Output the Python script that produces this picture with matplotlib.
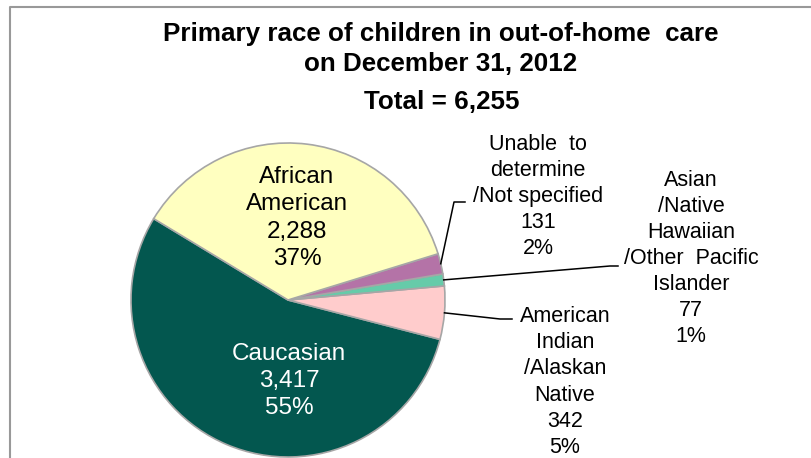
import numpy as np
import matplotlib
matplotlib.use("Agg")
import matplotlib.pyplot as plt

plt.rcParams['font.family'] = ['Liberation Sans', 'DejaVu Sans']

# ---- data ----
categories = ["Caucasian", "American\nIndian\n/Alaskan\nNative", "Asian\n/Native\nHawaiian\n/Other  Pacific\nIslander",
              "Unable  to\ndetermine\n/Not specified", "African\nAmerican"]
values = [3417, 342, 77, 131, 2288]
percent_labels = ["55%", "5%", "1%", "2%", "37%"]
value_labels = ["3,417", "342", "77", "131", "2,288"]
colors = ["#03574F", "#FFCCCC", "#66CBA9", "#B473A7", "#FFFFC0"]
title_lines = ["Primary race of children in out-of-home  care", "on December 31, 2012"]
total_label = "Total = 6,255"

W, H = 811, 458
fig = plt.figure(figsize=(W / 100, H / 100), dpi=100)
ax = fig.add_axes([0, 0, 1, 1])

cx, cy, R = 288, H - 300, 157
start = 148.8
wedges, _ = ax.pie(values, colors=colors, startangle=start, counterclock=True,
                   center=(cx, cy), radius=R,
                   wedgeprops=dict(edgecolor="#A6A6A6", linewidth=1.2))
ax.set_xlim(0, W)
ax.set_ylim(0, H)
ax.set_aspect('equal')
ax.axis('off')

def px(x, y):
    return x, H - y

# frame border (open at right and bottom)
ax.plot([10, 10, W + 5], [-5, H - 7, H - 7], color="#999999", linewidth=1.5, clip_on=False)

# Titles
ax.text(*px(441, 41), title_lines[0], ha='center', va='baseline', fontsize=18.7, fontweight='bold')
ax.text(*px(441, 71), title_lines[1], ha='center', va='baseline', fontsize=18.7, fontweight='bold')
ax.text(*px(442, 109), total_label, ha='center', va='baseline', fontsize=18.7, fontweight='bold')

# inner labels
inner = {0: (289, 381, "white"), 4: (297, 218, "black")}
for i, (x, y, c) in inner.items():
    ax.text(*px(x, y), f"{categories[i]}\n{value_labels[i]}\n{percent_labels[i]}",
            ha='center', va='center', multialignment='center', fontsize=17.5, color=c, linespacing=1.31)

# outer labels with leader lines
outer = {3: ((538, 196.5), [(454, 202), (465, 202)]),
         2: ((691, 258.5), [(610, 266), (618, 266)]),
         1: ((565, 382), [(500, 319), (512, 319)])}
angles = np.cumsum([0] + values) / sum(values) * 360 + start
for i, (pos, elbow) in outer.items():
    mid = np.deg2rad((angles[i] + angles[i + 1]) / 2)
    x0, y0 = cx + R * np.cos(mid), cy + R * np.sin(mid)
    xs = [x0] + [e[0] for e in elbow]
    ys = [y0] + [H - e[1] for e in elbow]
    ax.plot(xs, ys, color="black", linewidth=1.1)
    ax.text(*px(*pos), f"{categories[i]}\n{value_labels[i]}\n{percent_labels[i]}",
            ha='center', va='center', multialignment='center', fontsize=15.5, color="black", linespacing=1.32)

fig.savefig("out.png", dpi=100)
